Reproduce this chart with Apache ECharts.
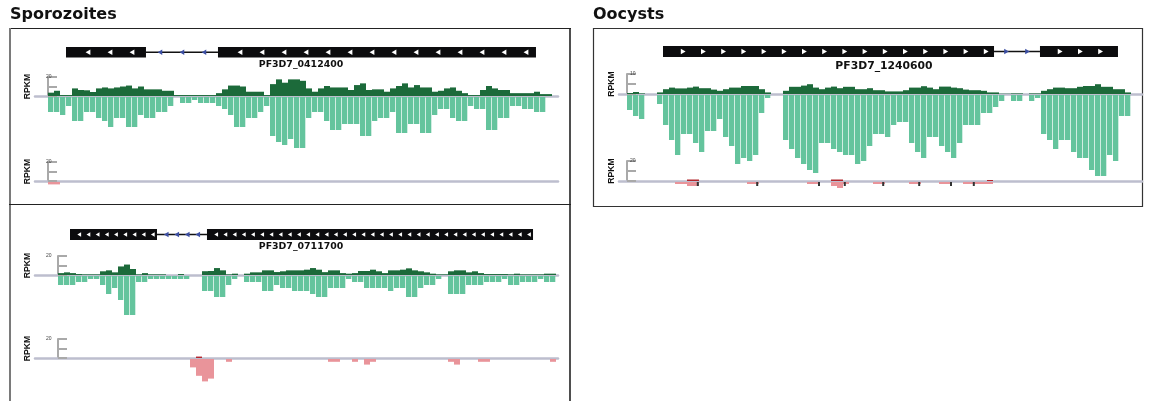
<!DOCTYPE html>
<html>
<head>
<meta charset="utf-8">
<script src="https://cdn.jsdelivr.net/npm/echarts@6/dist/echarts.min.js"></script>
<style>
  html, body { margin: 0; padding: 0; background: #fff; }
  #chart { width: 1150px; height: 401px; }
</style>
</head>
<body>
<div id="chart"></div>
<script>
// ---------------------------------------------------------------
// Data. Positions are in coverage bins along each locus.
// Coverage is RPKM per bin, read depth is the pile-up row count.
// ---------------------------------------------------------------

// Sporozoites — PF3D7_0412400 (minus strand)
const spzA_name = 'PF3D7_0412400';
const spzA_exons = [[3.0, 16.33], [28.33, 81.33]];
const spzA_introns = [[16.33, 28.33]];
const spzA_senseCov = [3.5, 5.5, 1, 1, 8, 6.3, 6, 4.2, 8, 9, 8, 9, 10, 11, 8, 10, 7, 7, 7, 5.5,
  5.5, 1, 1, 1, 1, 1, 1, 1, 3, 7, 11, 11, 10, 4.5, 4.5, 4.5, 1, 12.5, 17.5, 14,
  17.5, 17.5, 16, 8, 4.5, 8, 10.5, 9, 9, 9, 6.3, 11.5, 13.3, 6.3, 7, 7, 4.5, 8, 10.5, 13.3,
  9, 11.5, 9, 9, 4.5, 5.5, 8, 9, 5.5, 3, 1, 1, 6.3, 10.5, 8, 6.3, 6.3, 3, 3, 3,
  3, 4.5, 2, 2];
const spzA_senseDepth = [5, 5, 6, 3, 8, 8, 5, 5, 7, 8, 10, 7, 7, 10, 10, 6, 7, 7, 5, 5,
  3, 0, 2, 2, 1, 2, 2, 2, 3, 4, 6, 10, 10, 7, 7, 5, 3, 13, 15, 16,
  14, 17, 17, 7, 5, 5, 8, 11, 11, 9, 9, 9, 13, 13, 8, 7, 7, 5, 12, 12,
  9, 9, 12, 12, 6, 4, 4, 7, 8, 8, 3, 4, 4, 11, 11, 7, 7, 3, 3, 4,
  4, 5, 5, 0];
const spzA_antiCov = [];
const spzA_antiDepth = [[0, 1], [1, 1]];
const spzA_marks = [];

// Sporozoites — PF3D7_0711700 (minus strand)
const spzB_name = 'PF3D7_0711700';
const spzB_exons = [[2.0, 16.5], [24.83, 79.17]];
const spzB_introns = [[16.5, 24.83]];
const spzB_senseCov = [2, 2.8, 2, 1, 0.7, 0.7, 0.7, 3.9, 4.9, 2.8, 9, 11, 6.3, 0.7, 2, 0.7, 0.7, 0.7, 0, 0,
  1, 0, 0, 0, 4, 4.2, 7.3, 4.9, 0.7, 1.4, 0, 1.4, 2.8, 2.8, 4.9, 4.9, 3.1, 3.9, 4.9, 4.9,
  4.9, 5.6, 7.3, 5.6, 3, 4.9, 4.9, 2, 1.4, 2, 4.2, 4.2, 5.6, 3.9, 2, 4.9, 4.9, 5.6, 7, 4.9,
  3.9, 2.8, 1.4, 0.7, 0.7, 3.9, 4.9, 4.9, 2.8, 3.9, 2, 1, 1, 1, 1, 0.7, 1.4, 0.7, 0.7, 0.7,
  0.7, 1.4, 1.4];
const spzB_senseDepth = [3, 3, 3, 2, 2, 1, 1, 3, 6, 4, 8, 13, 13, 2, 2, 1, 1, 1, 1, 1,
  1, 1, 0, 0, 5, 5, 7, 7, 3, 1, 0, 2, 2, 2, 5, 5, 3, 4, 4, 5,
  5, 5, 6, 7, 7, 4, 4, 4, 1, 2, 2, 4, 4, 4, 4, 5, 4, 4, 7, 7,
  4, 3, 3, 1, 0, 6, 6, 6, 3, 3, 3, 2, 2, 2, 1, 3, 3, 2, 2, 2,
  1, 2, 2];
const spzB_antiCov = [[23, 1.5]];
const spzB_antiDepth = [[22, 3], [23, 6], [24, 8], [25, 7], [28, 1], [45, 1], [46, 1], [49, 1],
  [51, 2], [52, 1], [65, 1], [66, 2], [70, 1], [71, 1], [82, 1]];
const spzB_marks = [];

// Oocysts — PF3D7_1240600 (plus strand)
const oocA_name = 'PF3D7_1240600';
const oocA_exons = [[6.0, 61.17], [68.83, 81.83]];
const oocA_introns = [[61.17, 68.83]];
const oocA_senseCov = [0.5, 1, 0.3, 0, 0, 0.8, 2.4, 3.2, 2.8, 2.8, 3.2, 3.7, 2.9, 2.9, 2.2, 1.6, 2.4, 3.2, 3.2, 4,
  4, 4, 2.4, 0.8, 0, 0, 1.6, 3.6, 3.6, 4.2, 4.9, 3.2, 2.4, 3.2, 3.7, 2.9, 3.6, 3.6, 2.4, 2.4,
  2.9, 1.9, 1.9, 1.3, 1.3, 1.3, 1.9, 3.2, 3.2, 3.9, 3.2, 2.4, 3.7, 3.7, 3.2, 2.9, 2.2, 1.9, 1.9, 1.6,
  0.8, 0.8, 0.15, 0.15, 0.3, 0.3, 0, 0.3, 0.3, 1.6, 2.4, 3.2, 3.2, 2.9, 2.9, 3.6, 4, 4, 4.9, 3.6,
  3.6, 2.4, 2.4, 0.8];
const oocA_senseDepth = [5, 7, 8, 0, 0, 3, 10, 15, 20, 13, 13, 16, 19, 12, 12, 8, 14, 17, 23, 21,
  22, 20, 6, 1, 0, 0, 15, 18, 21, 23, 25, 26, 16, 16, 18, 19, 20, 20, 23, 22,
  17, 13, 13, 14, 10, 9, 9, 16, 19, 21, 14, 14, 17, 19, 21, 16, 10, 10, 10, 6,
  6, 4, 2, 0, 2, 2, 0, 2, 1, 13, 15, 18, 15, 15, 19, 21, 21, 25, 27, 27,
  20, 22, 7, 7];
const oocA_antiCov = [[10, 1.5], [11, 1.5], [34, 1.5], [35, 1.5], [60, 1]];
const oocA_antiDepth = [[8, 1], [9, 1], [10, 2], [11, 2], [20, 1], [21, 1], [30, 1], [31, 1],
  [34, 2], [35, 3], [36, 1], [41, 1], [42, 1], [47, 1], [48, 1], [52, 1], [53, 1],
  [56, 1], [57, 1], [58, 1], [59, 1], [60, 1]];
const oocA_marks = [11.8, 21.7, 32, 36.3, 42.7, 48.7, 54, 57.8];

// Scale maxima shown on each track bracket (RPKM)
const spzA_scale = [20, 20];
const spzB_scale = [20, 20];
const oocA_scale = [10, 20];

// Panel headings
const headings = ['Sporozoites', 'Oocysts'];

// ---------------------------------------------------------------
// Layout and style
// ---------------------------------------------------------------
const BIN_PX = 6;
const TITLE_FONT = '"DejaVu Sans", sans-serif';
const AXIS_FONT = '"Liberation Sans", Arial, sans-serif';
const COL = {
  exon: '#0c0c0e', intronDot: '#3b4ea3', senseCov: '#1c6a3a', senseRead: '#64c49d',
  antiCov: '#b3262d', antiRead: '#e9949a', baseline: '#bdbece', bracket: '#a9a9a9', mark: '#333'
};

const panels = [
  { name: spzA_name, exons: spzA_exons, introns: spzA_introns, strand: -1,
    senseCov: spzA_senseCov, senseDepth: spzA_senseDepth, antiCov: spzA_antiCov, antiDepth: spzA_antiDepth,
    marks: spzA_marks, scale: spzA_scale,
    left: 35, width: 523, origin: 48, gene: { top: 47, h: 10.5, arrowGap: 22, dotGap: 22, arrow: 4.8 },
    label: { x: 301, y: 65, size: 9.4 },
    t1: { top: 77, h: 19, readsTop: 97, rows: 20, rowPx: 3 },
    t2: { top: 162, h: 19, readsTop: 182, rows: 5, rowPx: 2.4 } },
  { name: spzB_name, exons: spzB_exons, introns: spzB_introns, strand: -1,
    senseCov: spzB_senseCov, senseDepth: spzB_senseDepth, antiCov: spzB_antiCov, antiDepth: spzB_antiDepth,
    marks: spzB_marks, scale: spzB_scale,
    left: 35, width: 523, origin: 58, gene: { top: 229, h: 11, arrowGap: 9.2, dotGap: 10.5, arrow: 3.8 },
    label: { x: 301, y: 246.5, size: 9.4 },
    t1: { top: 256, h: 19, readsTop: 276, rows: 15, rowPx: 3 },
    t2: { top: 339, h: 19, readsTop: 359, rows: 10, rowPx: 2.8 } },
  { name: oocA_name, exons: oocA_exons, introns: oocA_introns, strand: 1,
    senseCov: oocA_senseCov, senseDepth: oocA_senseDepth, antiCov: oocA_antiCov, antiDepth: oocA_antiDepth,
    marks: oocA_marks, scale: oocA_scale,
    left: 619, width: 523, origin: 627, gene: { top: 46, h: 11, arrowGap: 20.2, dotGap: 21, arrow: 4.8 },
    label: { x: 884, y: 66.5, size: 10.8 },
    t1: { top: 74, h: 20, readsTop: 95, rows: 28, rowPx: 3 },
    t2: { top: 161, h: 20, readsTop: 182, rows: 5, rowPx: 2 } }
];

const option = {
  animation: false,
  backgroundColor: '#ffffff',
  grid: [], xAxis: [], yAxis: [], series: [], graphic: []
};

const hidden = { show: false };
function addGrid(p, top, height, yCfg, xCfg) {
  const idx = option.grid.length;
  const xMin = (p.left - p.origin) / BIN_PX;
  option.grid.push({ left: p.left, top: top, width: p.width, height: height,
    containLabel: false, outerBoundsMode: 'none' });
  option.xAxis.push(Object.assign({ gridIndex: idx, type: 'value', min: xMin, max: xMin + p.width / BIN_PX,
    axisLine: hidden, axisTick: hidden, axisLabel: hidden, splitLine: hidden }, xCfg || {}));
  option.yAxis.push(Object.assign({ gridIndex: idx, type: 'value',
    axisLine: hidden, axisTick: hidden, axisLabel: hidden, splitLine: hidden }, yCfg));
  return idx;
}

function bracketAxis(max) {
  return {
    min: 0, max: max, interval: max / 2,
    name: 'RPKM', nameLocation: 'middle', nameRotate: 90, nameGap: 3,
    nameTextStyle: { fontFamily: AXIS_FONT, fontWeight: 'bold', fontSize: 8.6, color: '#111' },
    axisLine: { show: true, lineStyle: { color: COL.bracket, width: 2 } },
    axisTick: { show: true, inside: true, length: 9, lineStyle: { color: COL.bracket, width: 2 } },
    axisLabel: { show: true, inside: true, margin: 11, fontSize: 5, color: '#444', fontFamily: AXIS_FONT,
      formatter: function (v) { return v === max ? String(v) : ''; } },
    splitLine: hidden
  };
}
const baselineX = { axisLine: { show: true, onZero: false, lineStyle: { color: COL.baseline, width: 2.5 } } };

// one rectangle per bin; a hairline gap separates the pile-up columns
function binBars(color, gap) {
  return function (params, api) {
    const x = api.value(0), v = api.value(1);
    if (!v) return null;
    const a = api.coord([x, 0]), b = api.coord([x + 1, v]);
    return {
      type: 'rect',
      shape: { x: Math.min(a[0], b[0]), y: Math.min(a[1], b[1]),
        width: Math.abs(b[0] - a[0]) - gap, height: Math.abs(b[1] - a[1]) },
      style: { fill: color }
    };
  };
}

function chevron(cx, cy, dir, size, color) {
  const w = size, h = size * 1.15;
  const pts = dir < 0
    ? [[cx - w / 2, cy], [cx + w / 2, cy - h / 2], [cx + w / 2, cy + h / 2]]
    : [[cx + w / 2, cy], [cx - w / 2, cy - h / 2], [cx - w / 2, cy + h / 2]];
  return { type: 'polygon', shape: { points: pts }, style: { fill: color } };
}

function geneItem(p) {
  return function (params, api) {
    const s = api.value(0), e = api.value(1), kind = api.value(2);
    const a = api.coord([s, 0]), b = api.coord([e, 1]);
    const x0 = a[0], x1 = b[0], yTop = b[1], yBot = a[1], yMid = (yTop + yBot) / 2;
    const kids = [];
    if (kind === 0) {
      kids.push({ type: 'rect', shape: { x: x0, y: yTop, width: x1 - x0, height: yBot - yTop }, style: { fill: COL.exon } });
      for (let q = x0 + p.gene.arrowGap; q < x1 - 4; q += p.gene.arrowGap) {
        kids.push(chevron(q, yMid, p.strand, p.gene.arrow, '#ffffff'));
      }
    } else {
      kids.push({ type: 'line', shape: { x1: x0, y1: yMid, x2: x1, y2: yMid }, style: { stroke: '#111', lineWidth: 1.6 } });
      const n = Math.max(1, Math.floor((x1 - x0) / p.gene.dotGap));
      const start = x0 + ((x1 - x0) - (n - 1) * p.gene.dotGap) / 2;
      for (let k = 0; k < n; k++) kids.push(chevron(start + k * p.gene.dotGap, yMid, p.strand, 4.6, COL.intronDot));
    }
    return { type: 'group', children: kids };
  };
}

function markItem(params, api) {
  const a = api.coord([api.value(0), 0]);
  return { type: 'rect', shape: { x: a[0] - 1, y: a[1], width: 2, height: 4 }, style: { fill: COL.mark } };
}

const dense = arr => arr.map((v, i) => [i, v]);

panels.forEach(function (p) {
  // gene model
  const g = addGrid(p, p.gene.top, p.gene.h, { min: 0, max: 1 });
  option.series.push({ type: 'custom', xAxisIndex: g, yAxisIndex: g, renderItem: geneItem(p),
    data: p.exons.map(e => [e[0], e[1], 0]).concat(p.introns.map(e => [e[0], e[1], 1])) });

  // sense coverage + pile-up
  const c1 = addGrid(p, p.t1.top, p.t1.h, bracketAxis(p.scale[0]), baselineX);
  const r1 = addGrid(p, p.t1.readsTop, p.t1.rows * p.t1.rowPx, { min: 0, max: p.t1.rows, inverse: true });
  option.series.push({ type: 'custom', xAxisIndex: r1, yAxisIndex: r1, z: 1,
    renderItem: binBars(COL.senseRead, 0.7), data: dense(p.senseDepth) });
  option.series.push({ type: 'custom', xAxisIndex: c1, yAxisIndex: c1, z: 2,
    renderItem: binBars(COL.senseCov, 0), data: dense(p.senseCov) });

  // antisense coverage + pile-up
  const c2 = addGrid(p, p.t2.top, p.t2.h, bracketAxis(p.scale[1]), baselineX);
  const r2 = addGrid(p, p.t2.readsTop, p.t2.rows * p.t2.rowPx, { min: 0, max: p.t2.rows, inverse: true });
  option.series.push({ type: 'custom', xAxisIndex: r2, yAxisIndex: r2, z: 1,
    renderItem: binBars(COL.antiRead, 0), data: p.antiDepth });
  option.series.push({ type: 'custom', xAxisIndex: c2, yAxisIndex: c2, z: 2,
    renderItem: binBars(COL.antiCov, 0), data: p.antiCov });
  if (p.marks.length) {
    option.series.push({ type: 'custom', xAxisIndex: r2, yAxisIndex: r2, z: 3,
      renderItem: markItem, data: p.marks.map(m => [m]) });
  }

  // gene name
  option.graphic.push({ type: 'text', x: p.label.x, y: p.label.y, z: 10,
    style: { text: p.name, font: 'bold ' + p.label.size + 'px ' + TITLE_FONT, fill: '#111',
      textAlign: 'center', textVerticalAlign: 'middle', align: 'center', verticalAlign: 'middle' } });
});

// headings and panel frames
option.graphic.push(
  { type: 'text', x: 10, y: 15, style: { text: headings[0], font: 'bold 16px ' + TITLE_FONT, fill: '#111',
    textVerticalAlign: 'middle', verticalAlign: 'middle' } },
  { type: 'text', x: 593, y: 15, style: { text: headings[1], font: 'bold 16px ' + TITLE_FONT, fill: '#111',
    textVerticalAlign: 'middle', verticalAlign: 'middle' } },
  { type: 'line', shape: { x1: 9, y1: 28.5, x2: 571, y2: 28.5 }, style: { stroke: '#222', lineWidth: 1.2 } },
  { type: 'line', shape: { x1: 10, y1: 28, x2: 10, y2: 401 }, style: { stroke: '#7a7a7a', lineWidth: 2 } },
  { type: 'line', shape: { x1: 570, y1: 28, x2: 570, y2: 401 }, style: { stroke: '#222', lineWidth: 1.6 } },
  { type: 'line', shape: { x1: 9, y1: 204.5, x2: 571, y2: 204.5 }, style: { stroke: '#222', lineWidth: 1.2 } },
  { type: 'rect', shape: { x: 593.5, y: 28.5, width: 549, height: 178 },
    style: { fill: 'none', stroke: '#333', lineWidth: 1.2 } }
);

const chart = echarts.init(document.getElementById('chart'), null, { renderer: 'canvas' });
chart.setOption(option);
</script>
</body>
</html>
